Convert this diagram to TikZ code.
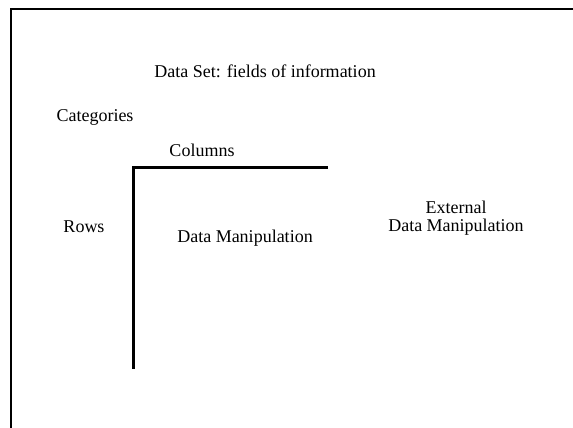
\documentclass[tikz,border=0pt]{standalone}
\usepackage{fontspec}
\setmainfont{Liberation Serif}
\begin{document}
\begin{tikzpicture}[x=1pt,y=-1pt,
  lbl/.style={font=\fontsize{18}{18}\selectfont, inner sep=0pt, align=center},
  frame/.style={line width=2pt},
  axis/.style={line width=3pt}]
\useasboundingbox (0,0) rectangle (573,428);
\coordinate (ftl) at (11,9);
\coordinate (ftr) at (573,9);
\coordinate (fbl) at (11,428);
\draw[frame] (ftr) -- (ftl) -- (fbl);
\coordinate (corner) at (133,167);
\coordinate (hend) at (328,167);
\coordinate (vend) at (133,369);
\draw[axis] (hend) -- (corner) -- (vend);
\node[lbl] (ds) at (265,71) {Data Set: fields of information};
\node[lbl] (cat) at (95,117) {Categories};
\node[lbl] (col) at (202,150) {Columns};
\node[lbl] (rows) at (84,227) {Rows};
\node[lbl] (dm) at (245,238) {Data Manipulation};
\node[lbl] (edm) at (456,218) {External\\Data Manipulation};
\end{tikzpicture}
\end{document}
